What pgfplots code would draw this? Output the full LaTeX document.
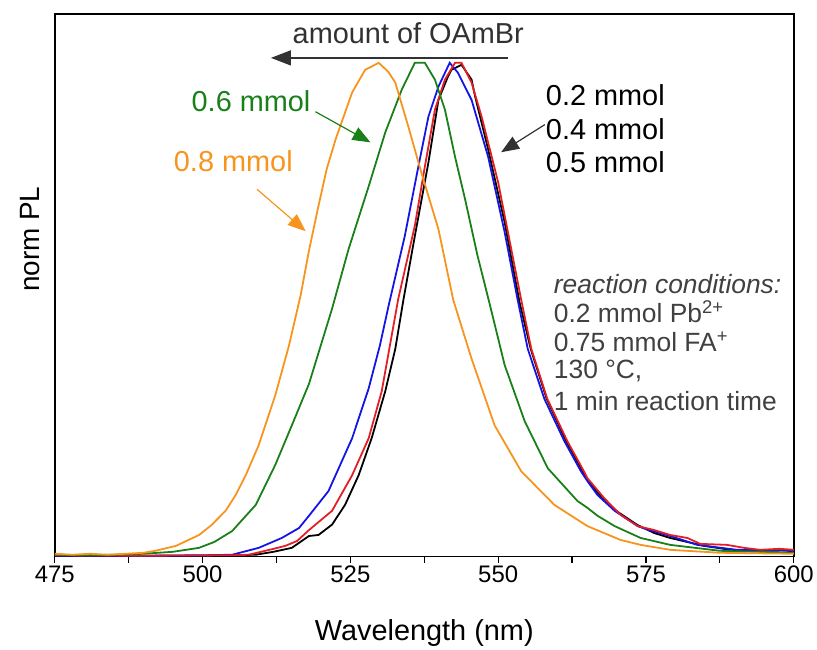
\documentclass[border=0pt]{standalone}
\usepackage{pgfplots}
\pgfplotsset{compat=1.18}
\usepackage{fontspec}
\setmainfont{Liberation Sans}
\usetikzlibrary{arrows.meta,calc}
\definecolor{cred}{RGB}{227,30,36}
\definecolor{cblue}{RGB}{20,20,230}
\definecolor{cgreen}{RGB}{25,128,25}
\definecolor{corange}{RGB}{247,148,30}
\definecolor{dgray}{RGB}{50,50,50}
\definecolor{tgray}{RGB}{64,64,64}
\begin{document}
\begin{tikzpicture}
\begin{axis}[
  width=742bp, height=545bp, scale only axis,
  xmin=475, xmax=600, ymin=0, ymax=1.099,
  xtick={475,500,...,600},
  minor xtick={487.5,512.5,...,587.5},
  ytick=\empty,
  xtick pos=bottom,
  tick align=outside,
  major tick length=6bp, minor tick length=6bp,
  every tick/.style={black, line width=1.2bp},
  axis line style={line width=1.5bp},
  /pgf/number format/assume math mode=true,
  tick label style={font=\fontsize{24bp}{24bp}\selectfont},
  xlabel={Wavelength (nm)},
  xlabel style={font=\fontsize{29bp}{29bp}\selectfont, at={(axis description cs:0.5,-0.14)}, anchor=center},
  ylabel={norm PL},
  ylabel style={font=\fontsize{28bp}{28bp}\selectfont, at={(axis description cs:-0.034,0.585)}, anchor=center},
  clip=false,
]
% black
\addplot[black, line width=1.8bp] coordinates {
(475,0.002) (500,0.002) (509,0.004) (512,0.010) (515.1,0.018) (516.3,0.028) (518,0.042) (519.6,0.044)
(521.9,0.065) (524.1,0.105) (526.4,0.165) (528.6,0.240) (530.9,0.335) (532.6,0.421) (534,0.522)
(535.9,0.649) (538.2,0.798) (539.9,0.925) (541.5,0.972) (542.1,0.986) (543.8,0.996) (545.5,0.966)
(546.1,0.932) (548.3,0.825) (551.1,0.677) (553.6,0.516) (555.5,0.421) (558.2,0.320) (561.5,0.234)
(564.3,0.173) (565.1,0.155) (567.9,0.115) (569.7,0.095) (573.6,0.064) (576.4,0.048) (579.1,0.038)
(584.8,0.022) (590.4,0.012) (597,0.012) (598.5,0.014) (600,0.008)};
% blue
\addplot[cblue, line width=1.8bp] coordinates {
(475,0.002) (490,0.002) (500,0.003) (505,0.004) (509.5,0.018) (513.4,0.038) (516.3,0.058) (518,0.083)
(521.3,0.133) (525.3,0.240) (528.1,0.341) (530.0,0.428) (531.5,0.510) (534.2,0.649) (536.5,0.790)
(538.2,0.891) (539.9,0.952) (541.8,1.000) (543.2,0.980) (545.5,0.925) (548.3,0.810) (551.1,0.657)
(553.3,0.520) (555,0.421) (557.8,0.320) (561.2,0.234) (564,0.173) (565.1,0.153) (566.8,0.125)
(569.7,0.093) (573.6,0.062) (575,0.056) (579.1,0.042) (583.7,0.024) (590.4,0.014) (600,0.012)};
% red
\addplot[cred, line width=1.8bp] coordinates {
(475,0.003) (490,0.002) (505,0.003) (507.8,0.004) (512,0.016) (514,0.022) (516,0.032) (518,0.054)
(521.9,0.093) (525.3,0.165) (528.1,0.240) (530.3,0.335) (533.1,0.522) (535.9,0.670) (537.6,0.790)
(539.3,0.905) (541,0.966) (542.7,1.000) (543.8,1.000) (545.5,0.960) (547.2,0.891) (550,0.758)
(553.9,0.520) (555.6,0.421) (558.3,0.320) (561.7,0.234) (564.5,0.173) (565.1,0.159) (567.9,0.119)
(570.7,0.085) (573.6,0.062) (576.4,0.054) (579.1,0.044) (582,0.038) (584.2,0.026) (588.7,0.024)
(591.6,0.018) (594.3,0.014) (597.6,0.016) (600,0.014)};
% green
\addplot[cgreen, line width=1.8bp] coordinates {
(475,0.004) (480,0.003) (485,0.004) (490,0.006) (495,0.010) (499.4,0.018) (502,0.030) (505,0.052)
(509,0.105) (512.3,0.186) (515.1,0.266) (518,0.350) (521.9,0.502) (524.7,0.623) (528.1,0.750)
(530.9,0.859) (533.7,0.946) (535.9,1.000) (537.6,1.000) (539.3,0.966) (541,0.905) (542.7,0.810)
(544.4,0.724) (546.5,0.610) (548.6,0.510) (551.1,0.388) (554.5,0.274) (558.4,0.179) (563.4,0.113)
(565.1,0.099) (566.8,0.083) (569.7,0.062) (574.1,0.038) (579.1,0.024) (587.5,0.012) (600,0.008)};
% orange
\addplot[corange, line width=1.8bp] coordinates {
(475,0.006) (478,0.004) (481,0.006) (484,0.004) (487,0.006) (490,0.008) (492,0.012) (495.5,0.022)
(499.4,0.044) (501.5,0.064) (503.9,0.093) (505.6,0.125) (507.3,0.165) (509.5,0.226) (512.3,0.327)
(514.6,0.427) (516.6,0.530) (518,0.620) (519.6,0.710) (521,0.785) (522.5,0.845) (525.3,0.940) (527.5,0.986) (529.8,1.000)
(531.4,0.982) (532.6,0.960) (534.8,0.871) (537,0.778) (539.9,0.663) (542.4,0.520) (545.5,0.401)
(549.4,0.266) (553.9,0.173) (559.5,0.105) (565.1,0.062) (570.7,0.034) (574.1,0.024) (579.1,0.014)
(587.5,0.008) (600,0.006)};
% annotations
\node[dgray, font=\fontsize{29bp}{29bp}\selectfont] at (axis cs:534.8,1.06) {amount of OAmBr};
\draw[dgray, line width=1.5bp, {Triangle[length=20bp,width=15bp]}-] (axis cs:511.56,1.01) -- (axis cs:551.65,1.01);
\node[cgreen, font=\fontsize{29bp}{29bp}\selectfont] at (axis cs:508.2,0.923) {0.6 mmol};
\draw[cgreen, line width=1.2bp, -{Triangle[length=18bp,width=14bp]}] (axis cs:519.1,0.901) -- (axis cs:528.4,0.839);
\node[corange, font=\fontsize{29bp}{29bp}\selectfont] at (axis cs:505.2,0.80) {0.8 mmol};
\draw[corange, line width=1.2bp, -{Triangle[length=18bp,width=14bp]}] (axis cs:509.2,0.744) -- (axis cs:517.45,0.659);
\node[black, anchor=west, inner sep=0pt, font=\fontsize{29bp}{29bp}\selectfont] at (axis cs:558.05,0.935) {0.2 mmol};
\node[black, anchor=west, inner sep=0pt, font=\fontsize{29bp}{29bp}\selectfont] at (axis cs:558.05,0.865) {0.4 mmol};
\node[black, anchor=west, inner sep=0pt, font=\fontsize{29bp}{29bp}\selectfont] at (axis cs:558.05,0.798) {0.5 mmol};
\draw[dgray, line width=1.2bp, -{Triangle[length=18bp,width=14bp]}] (axis cs:557.9,0.875) -- (axis cs:550.5,0.819);
\node[tgray, anchor=west, inner sep=0pt, font=\fontsize{26.5bp}{26.5bp}\selectfont] at (axis cs:559.4,0.552) {\textit{reaction conditions:}};
\node[tgray, anchor=west, inner sep=0pt, font=\fontsize{26.5bp}{26.5bp}\selectfont] at (axis cs:559.4,0.496) {0.2 mmol Pb\textsuperscript{2+}};
\node[tgray, anchor=west, inner sep=0pt, font=\fontsize{26.5bp}{26.5bp}\selectfont] at (axis cs:559.4,0.435) {0.75 mmol FA\textsuperscript{+}};
\node[tgray, anchor=west, inner sep=0pt, font=\fontsize{26.5bp}{26.5bp}\selectfont] at (axis cs:559.4,0.377) {130 °C,};
\node[tgray, anchor=west, inner sep=0pt, font=\fontsize{26.5bp}{26.5bp}\selectfont] at (axis cs:559.4,0.315) {1 min reaction time};
\end{axis}
\path ($(current axis.south west)+(-55bp,-88bp)$) rectangle ++(817bp,647bp);
\end{tikzpicture}
\end{document}
